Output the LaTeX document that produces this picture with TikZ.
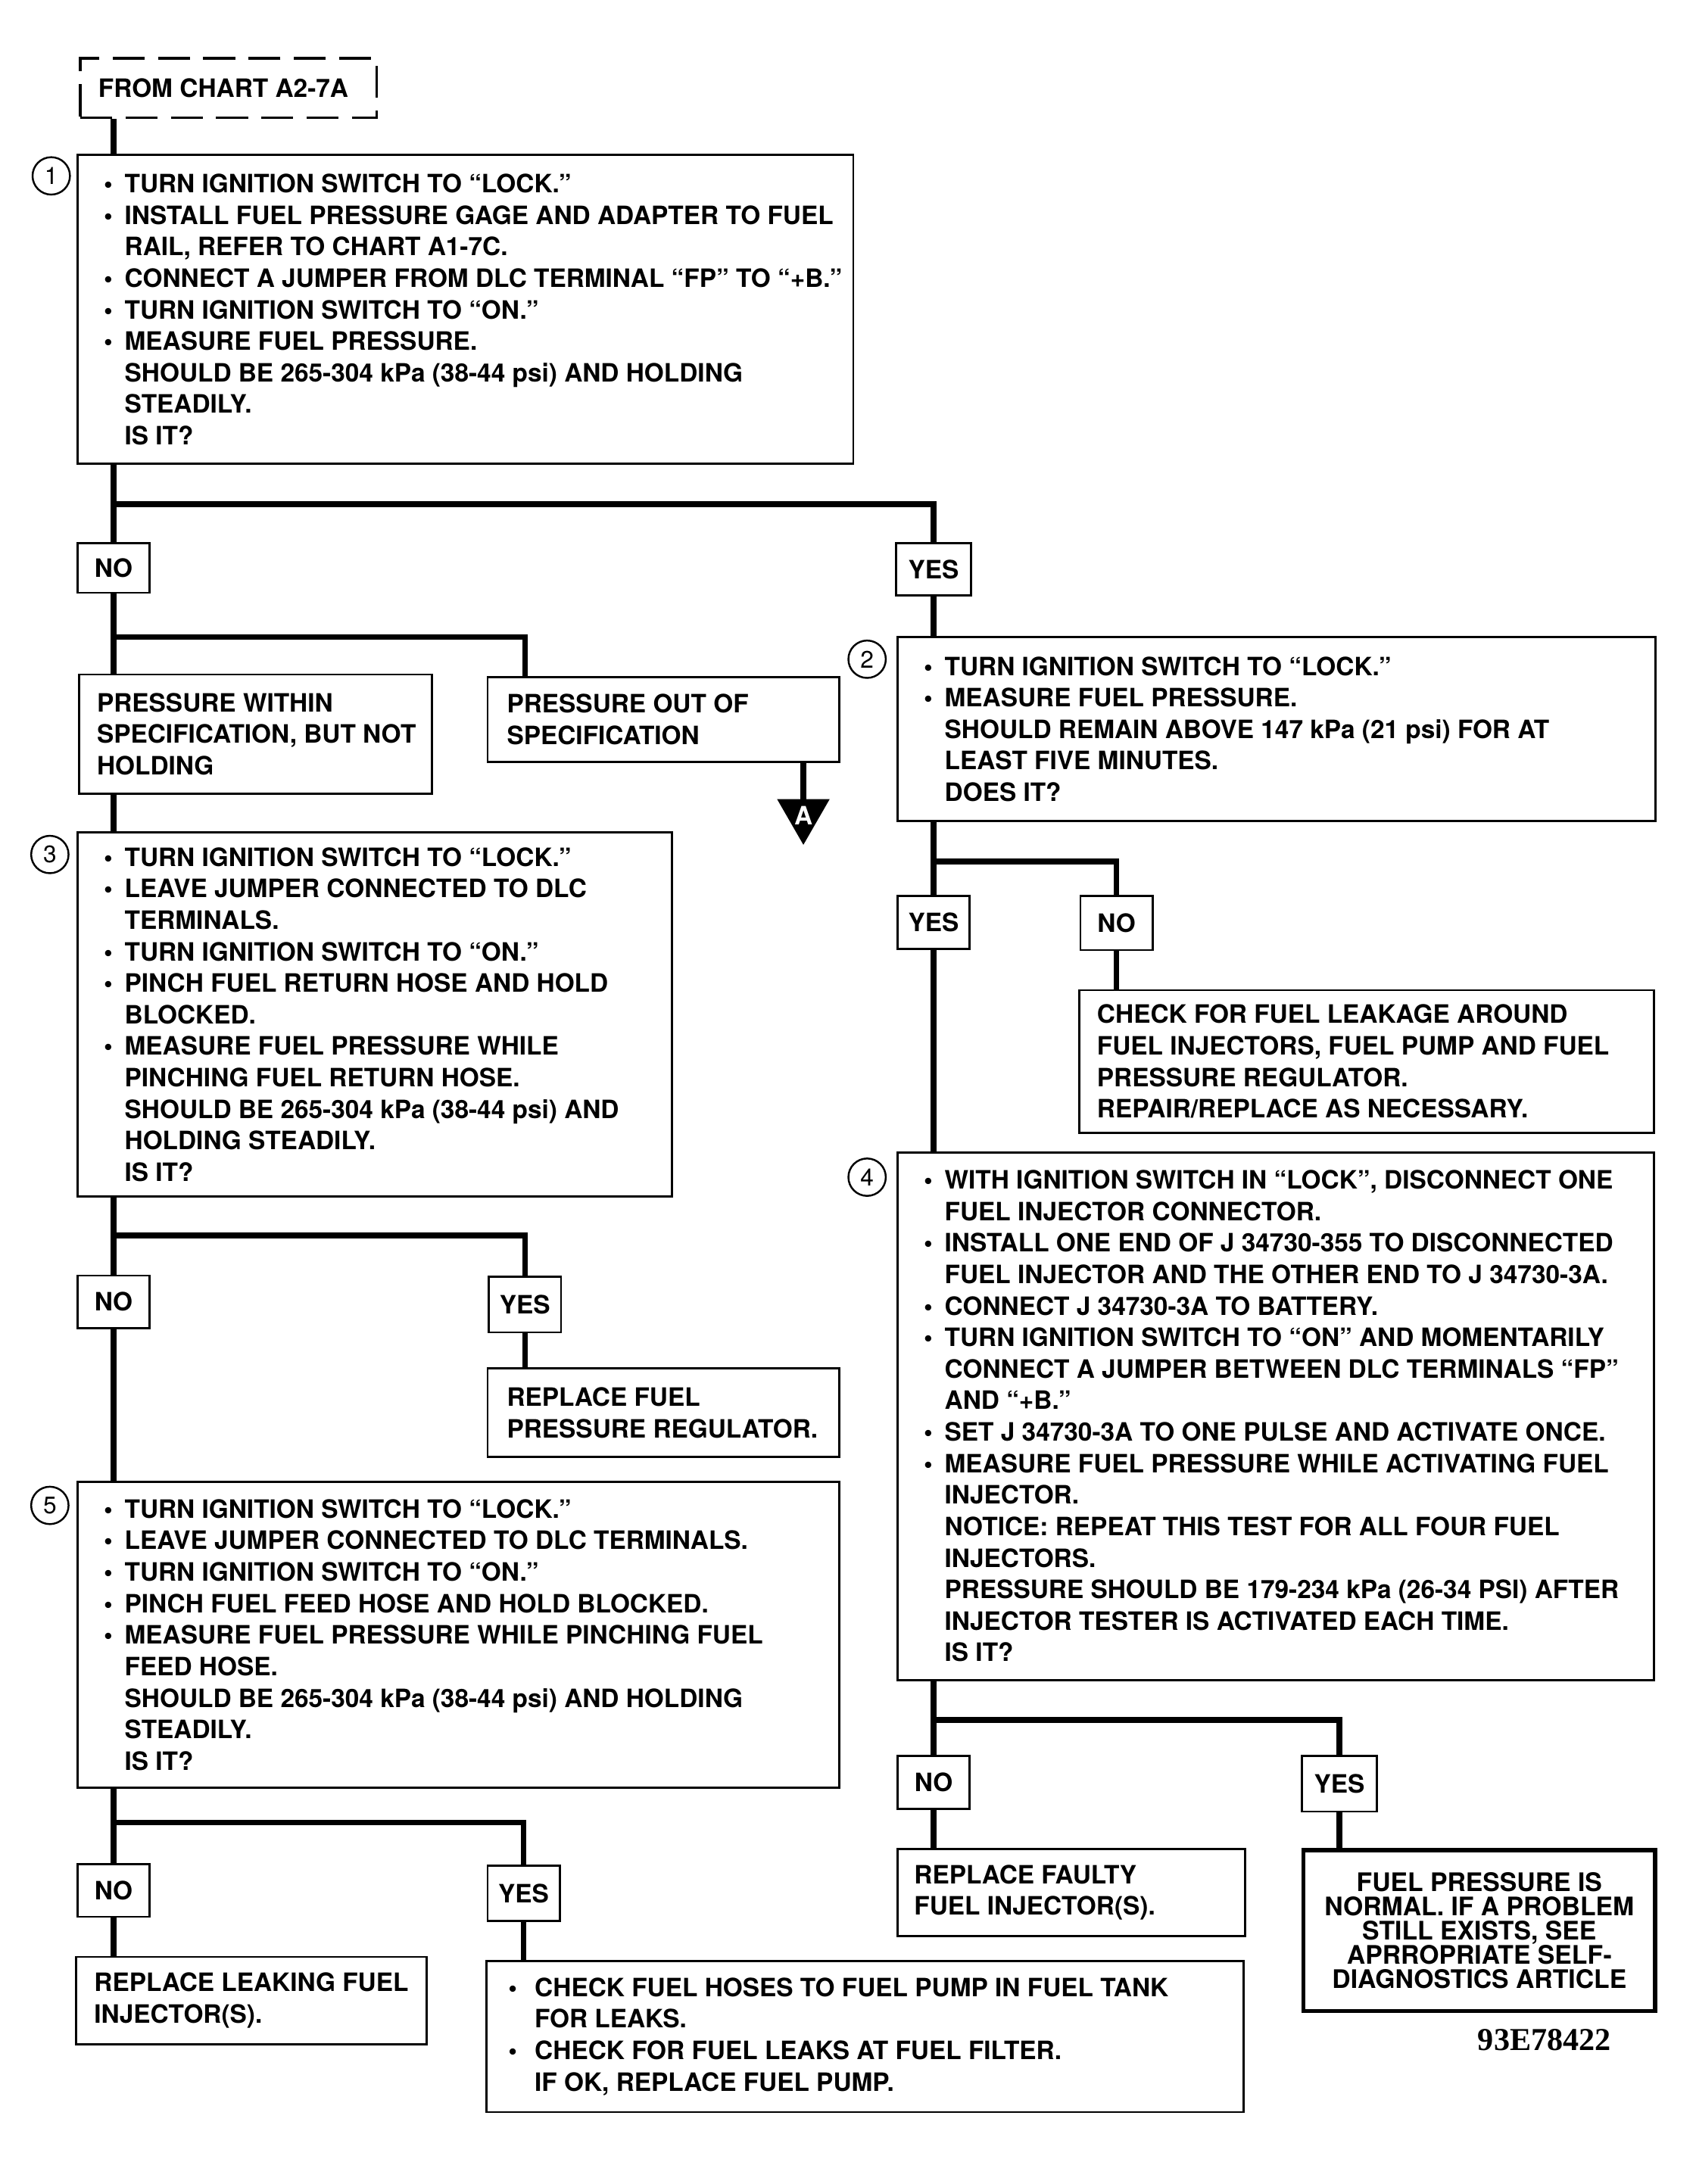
\documentclass[tikz,border=0pt]{standalone}
\usepackage{fontspec}
\setmainfont{TeX Gyre Heros}
\newfontfamily\codefont{Liberation Serif}
\newlength\uu
\setlength\uu{0.52049pt}
\newcommand\bind{15}
\newcommand\bl[1]{\makebox[\bind\uu][l]{\textbullet}#1}
\newcommand\ct[1]{\hspace*{\bind\uu}#1}
\tikzset{
  every node/.style={font=\fontsize{9.5}{11.84}\selectfont\bfseries},
  box/.style={draw, rectangle, line width=0.8pt, inner sep=0pt},
  conn/.style={line width=2.1pt, line join=miter, line cap=butt},
  numcirc/.style={draw, circle, line width=0.7pt, inner sep=0pt, minimum size={27*0.52049pt},
    font=\fontsize{9}{9}\selectfont\mdseries},
}
% name, x1, y1, x2, y2, pad, content
\newcommand\tbox[7]{%
  \node[box, minimum width={(#4-#2)*0.52049pt}, minimum height={(#5-#3)*0.52049pt}]
    (#1) at ({(#2+#4)/2},{(#3+#5)/2})
    {\makebox[\dimexpr\uu*(#4-#2)\relax][l]{\hspace*{#6\uu}\parbox[c]{\dimexpr\uu*(#4-#2-#6)\relax}{\raggedright #7}}};}
\newcommand\ynbox[6]{%
  \node[box, minimum width={(#4-#2)*0.52049pt}, minimum height={(#5-#3)*0.52049pt}]
    (#1) at ({(#2+#4)/2},{(#3+#5)/2}) {#6};}
\begin{document}
\begin{tikzpicture}[x=0.52049pt, y=-0.52049pt]
\useasboundingbox (0,0) rectangle (1224,1577);
% columns and junctions
\coordinate (xL) at (82,0);
\coordinate (xR) at (674,0);
\coordinate (xA) at (379,0);
\coordinate (tA) at (580,577);
\coordinate (j1) at (82,364);
\coordinate (j2) at (82,460);
\coordinate (j3) at (82,892);
\coordinate (j5) at (82,1316);
\coordinate (j2r) at (674,622);
\coordinate (j4) at (674,1242);

% boxes
\node[box, line width=1pt, dash pattern=on 12pt off 5pt, minimum width={214*0.52049pt}, minimum height={43*0.52049pt}]
  (from) at (165,63.5) {\makebox[\dimexpr\uu*214\relax][l]{\hspace*{13\uu}FROM CHART A2-7A}};

\tbox{box1}{56}{112}{616}{335}{19}{%
\bl{TURN IGNITION SWITCH TO “LOCK.”}\\
\bl{INSTALL FUEL PRESSURE GAGE AND ADAPTER TO FUEL}\\
\ct{RAIL, REFER TO CHART A1-7C.}\\
\bl{CONNECT A JUMPER FROM DLC TERMINAL “FP” TO “+B.”}\\
\bl{TURN IGNITION SWITCH TO “ON.”}\\
\bl{MEASURE FUEL PRESSURE.}\\
\ct{SHOULD BE 265-304 kPa (38-44 psi) AND HOLDING}\\
\ct{STEADILY.}\\
\ct{IS IT?}}
\node[numcirc] (c1) at (37,127) {1};

\ynbox{no1}{56}{392}{108}{428}{NO}
\ynbox{yes1}{647}{392}{701}{430}{YES}

\tbox{pw}{57}{487}{312}{573}{13}{PRESSURE WITHIN\\SPECIFICATION, BUT NOT\\HOLDING}
\tbox{po}{352}{489}{606}{550}{14}{PRESSURE OUT OF\\SPECIFICATION}

\tbox{box3}{56}{601}{485}{864}{19}{%
\bl{TURN IGNITION SWITCH TO “LOCK.”}\\
\bl{LEAVE JUMPER CONNECTED TO DLC}\\
\ct{TERMINALS.}\\
\bl{TURN IGNITION SWITCH TO “ON.”}\\
\bl{PINCH FUEL RETURN HOSE AND HOLD}\\
\ct{BLOCKED.}\\
\bl{MEASURE FUEL PRESSURE WHILE}\\
\ct{PINCHING FUEL RETURN HOSE.}\\
\ct{SHOULD BE 265-304 kPa (38-44 psi) AND}\\
\ct{HOLDING STEADILY.}\\
\ct{IS IT?}}
\node[numcirc] (c3) at (36,617) {3};

\ynbox{no3}{56}{921}{108}{959}{NO}
\ynbox{yes3}{353}{922}{405}{962}{YES}
\tbox{rfpr}{352}{988}{606}{1052}{14}{REPLACE FUEL\\PRESSURE REGULATOR.}

\tbox{box5}{56}{1070}{606}{1291}{19}{%
\bl{TURN IGNITION SWITCH TO “LOCK.”}\\
\bl{LEAVE JUMPER CONNECTED TO DLC TERMINALS.}\\
\bl{TURN IGNITION SWITCH TO “ON.”}\\
\bl{PINCH FUEL FEED HOSE AND HOLD BLOCKED.}\\
\bl{MEASURE FUEL PRESSURE WHILE PINCHING FUEL}\\
\ct{FEED HOSE.}\\
\ct{SHOULD BE 265-304 kPa (38-44 psi) AND HOLDING}\\
\ct{STEADILY.}\\
\ct{IS IT?}}
\node[numcirc] (c5) at (36,1087) {5};

\ynbox{no5}{56}{1346}{108}{1384}{NO}
\ynbox{yes5}{352}{1347}{404}{1387}{YES}
\tbox{rlfi}{55}{1413}{308}{1476}{13}{REPLACE LEAKING FUEL\\INJECTOR(S).}
\tbox{chk}{351}{1416}{898}{1525}{16}{\renewcommand\bind{19}%
\bl{CHECK FUEL HOSES TO FUEL PUMP IN FUEL TANK}\\
\ct{FOR LEAKS.}\\
\bl{CHECK FOR FUEL LEAKS AT FUEL FILTER.}\\
\ct{IF OK, REPLACE FUEL PUMP.}}

% right column
\tbox{box2}{648}{460}{1195}{593}{19}{%
\bl{TURN IGNITION SWITCH TO “LOCK.”}\\
\bl{MEASURE FUEL PRESSURE.}\\
\ct{SHOULD REMAIN ABOVE 147 kPa (21 psi) FOR AT}\\
\ct{LEAST FIVE MINUTES.}\\
\ct{DOES IT?}}
\node[numcirc] (c2) at (626,476) {2};

\ynbox{yes2}{648}{647}{700}{685}{YES}
\ynbox{no2}{780}{647}{832}{686}{NO}
\tbox{leak}{779}{715}{1194}{818}{13}{CHECK FOR FUEL LEAKAGE AROUND\\FUEL INJECTORS, FUEL PUMP AND FUEL\\PRESSURE REGULATOR.\\REPAIR/REPLACE AS NECESSARY.}

\tbox{box4}{648}{832}{1194}{1213}{19}{%
\bl{WITH IGNITION SWITCH IN “LOCK”, DISCONNECT ONE}\\
\ct{FUEL INJECTOR CONNECTOR.}\\
\bl{INSTALL ONE END OF J 34730-355 TO DISCONNECTED}\\
\ct{FUEL INJECTOR AND THE OTHER END TO J 34730-3A.}\\
\bl{CONNECT J 34730-3A TO BATTERY.}\\
\bl{TURN IGNITION SWITCH TO “ON” AND MOMENTARILY}\\
\ct{CONNECT A JUMPER BETWEEN DLC TERMINALS “FP”}\\
\ct{AND “+B.”}\\
\bl{SET J 34730-3A TO ONE PULSE AND ACTIVATE ONCE.}\\
\bl{MEASURE FUEL PRESSURE WHILE ACTIVATING FUEL}\\
\ct{INJECTOR.}\\
\ct{NOTICE: REPEAT THIS TEST FOR ALL FOUR FUEL}\\
\ct{INJECTORS.}\\
\ct{PRESSURE SHOULD BE 179-234 kPa (26-34 PSI) AFTER}\\
\ct{INJECTOR TESTER IS ACTIVATED EACH TIME.}\\
\ct{IS IT?}}
\node[numcirc] (c4) at (626,850) {4};

\ynbox{no4}{648}{1268}{700}{1306}{NO}
\ynbox{yes4}{940}{1268}{994}{1308}{YES}
\tbox{rfi}{648}{1335}{899}{1398}{12}{REPLACE FAULTY\\FUEL INJECTOR(S).}
\node[box, line width=1.6pt, minimum width={254*0.52049pt}, minimum height={116*0.52049pt}, align=center,
  font=\fontsize{9.6}{9.1}\selectfont\bfseries]
  (normal) at (1068,1394) {FUEL PRESSURE IS\\NORMAL. IF A PROBLEM\\STILL EXISTS, SEE\\APRROPRIATE SELF-\\DIAGNOSTICS ARTICLE};
\node[font=\codefont\bfseries\fontsize{12}{12}\selectfont] (code) at (1115,1473) {93E78422};

% off-page connector A
\fill (tA) ++(-19,0) -- ++(38,0) -- (580,610) -- cycle;
\node[text=white] (Alab) at (580,589) {A};

% connectors
\draw[conn] (from.south -| xL) -- (box1.north -| xL);
\draw[conn] (box1.south -| xL) -- (no1.north);
\draw[conn] (j1) -- (j1 -| yes1) -- (yes1.north);
\draw[conn] (no1.south) -- (pw.north -| no1);
\draw[conn] (j2) -- (j2 -| xA) -- (po.north -| xA);
\draw[conn] (po.south -| tA) -- (tA);
\draw[conn] (pw.south -| xL) -- (box3.north -| xL);
\draw[conn] (box3.south -| xL) -- (no3.north);
\draw[conn] (j3) -- (j3 -| yes3) -- (yes3.north);
\draw[conn] (yes3.south) -- (rfpr.north -| yes3);
\draw[conn] (no3.south) -- (box5.north -| no3);
\draw[conn] (box5.south -| xL) -- (no5.north);
\draw[conn] (j5) -- (j5 -| yes5) -- (yes5.north);
\draw[conn] (no5.south) -- (rlfi.north -| no5);
\draw[conn] (yes5.south) -- (chk.north -| yes5);
\draw[conn] (yes1.south) -- (box2.north -| yes1);
\draw[conn] (box2.south -| xR) -- (yes2.north);
\draw[conn] (j2r) -- (j2r -| no2) -- (no2.north);
\draw[conn] (no2.south) -- (leak.north -| no2);
\draw[conn] (yes2.south) -- (box4.north -| yes2);
\draw[conn] (box4.south -| xR) -- (no4.north);
\draw[conn] (j4) -- (j4 -| yes4) -- (yes4.north);
\draw[conn] (no4.south) -- (rfi.north -| no4);
\draw[conn] (yes4.south) -- (normal.north -| yes4);
\end{tikzpicture}
\end{document}
